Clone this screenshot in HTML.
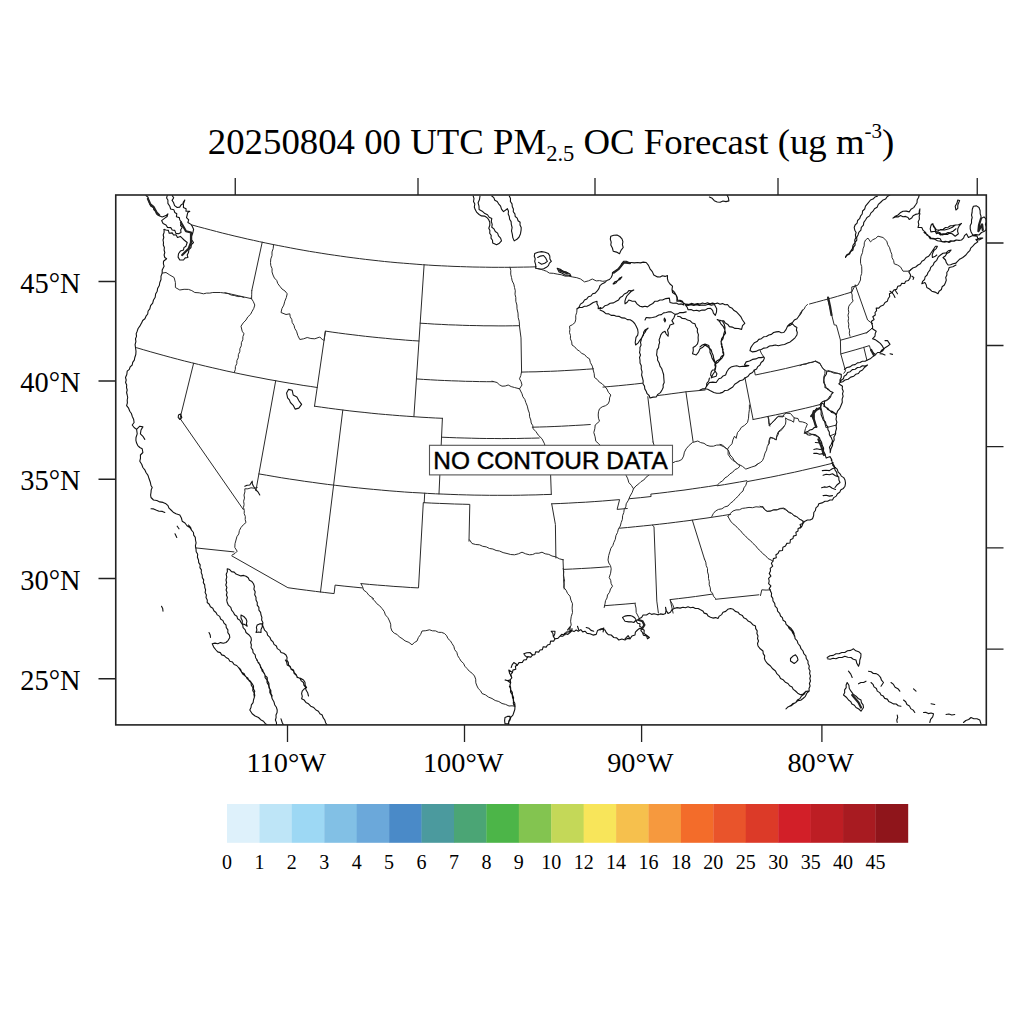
<!DOCTYPE html><html><head><meta charset="utf-8"><style>html,body{margin:0;padding:0;background:#fff;}svg{display:block}</style></head><body>
<svg width="1024" height="1024" viewBox="0 0 1024 1024">
<rect width="1024" height="1024" fill="#fff"/>
<defs><clipPath id="cp"><rect x="115.75" y="195.00" width="870.55" height="529.90"/></clipPath></defs>
<g clip-path="url(#cp)" fill="none" stroke-linejoin="round" stroke-linecap="round"><path d="M192.1 225.0 198.2 226.7 204.3 228.3 210.4 229.9 216.5 231.5 222.6 233.1 228.8 234.6 234.9 236.1 241.1 237.5 247.3 239.0 253.4 240.3 259.6 241.7 265.8 243.0 272.0 244.3 278.2 245.5 284.4 246.7 290.6 247.9 296.9 249.1 303.1 250.2 309.3 251.3 315.6 252.3 321.8 253.3 328.1 254.3 334.3 255.2 340.6 256.1 346.9 257.0 353.1 257.8 359.4 258.6 365.7 259.4 372.0 260.1 378.3 260.8 384.6 261.5 390.8 262.1 397.1 262.7 403.5 263.2 409.8 263.7 416.1 264.2 422.4 264.7 428.7 265.1 435.0 265.5 441.3 265.8 447.6 266.1 454.0 266.4 460.3 266.6 466.6 266.8 472.9 267.0 479.3 267.1 485.6 267.2 491.9 267.3 498.3 267.3 504.6 267.3 510.9 267.3 517.2 267.2 523.6 267.1 529.9 267.0 536.2 266.8M262.2 242.2 251.8 290.5M224.8 292.7 231.5 294.2 238.2 295.7 244.9 297.2 251.6 298.7M136.5 347.7 143.3 349.7 150.2 351.7 157.0 353.6 163.9 355.5 170.8 357.4 177.6 359.2 184.5 361.0 191.5 362.7 198.4 364.4 205.3 366.1 212.2 367.7 219.2 369.3 226.1 370.9 233.1 372.4 240.1 373.9 247.0 375.3 254.0 376.7 261.0 378.0 268.0 379.4 275.0 380.6 282.0 381.9 289.1 383.1 296.1 384.2 303.1 385.4 310.2 386.4 317.2 387.5M193.6 363.3 180.0 418.4 243.3 509.5M275.7 380.7 258.9 473.9 255.9 490.6M324.0 340.5 325.4 331.1 314.5 406.2M325.4 331.1 332.1 332.1 338.7 333.0 345.4 333.9 352.1 334.7 358.7 335.5 365.4 336.3 372.1 337.0 378.8 337.7 385.5 338.3 392.2 339.0 398.9 339.5 405.6 340.1 412.3 340.6 419.0 341.0M424.1 264.8 413.9 416.7M314.5 406.2 321.6 407.2 328.7 408.2 335.7 409.1 342.8 410.0 349.9 410.9 357.0 411.7 364.1 412.4 371.2 413.2 378.3 413.9 385.4 414.5 392.5 415.1 399.7 415.7 406.8 416.2 413.9 416.7 421.0 417.2 428.2 417.6 435.3 418.0 442.4 418.3M342.8 410.0 333.6 485.1 320.5 592.0M258.9 473.9 266.5 475.2 274.1 476.5 281.7 477.8 289.4 479.0 297.0 480.1 304.7 481.3 312.3 482.3 320.0 483.4 327.6 484.4 335.3 485.3 343.0 486.2 350.7 487.1 358.4 487.9 366.0 488.7 373.7 489.4 381.4 490.1 389.1 490.8 396.8 491.4 404.6 492.0 412.3 492.5 420.0 492.9 427.7 493.4 435.4 493.8 443.1 494.1 450.9 494.4 458.6 494.7 466.3 494.9 474.1 495.1 481.8 495.2 489.5 495.3 497.2 495.3 505.0 495.3 512.7 495.3 520.4 495.2 528.2 495.0 535.9 494.9 543.6 494.6 551.3 494.4M442.4 418.3 439.0 493.9M441.6 437.2 449.1 437.5 456.6 437.8 464.1 438.0 471.6 438.2 479.1 438.4 486.7 438.5 494.2 438.5 501.7 438.6 509.2 438.5 516.7 438.5 524.2 438.3 531.7 438.2 539.2 438.0M195.6 547.9 234.0 551.9M231.8 555.9 287.9 587.7 287.9 587.7 297.1 589.0 306.3 590.2 315.6 591.4 324.8 592.5 334.1 593.6 335.1 585.1 335.1 585.1 344.1 586.1 353.1 587.0 362.2 587.9M361.1 583.6 369.3 584.4 377.5 585.1 385.7 585.7 393.9 586.4 402.1 586.9 410.3 587.5 418.5 587.9 423.3 502.6 424.2 502.7 424.7 493.2M424.2 502.7 431.8 503.1 439.4 503.4 447.0 503.7 454.6 504.0 462.2 504.2 469.8 504.4 469.0 541.2M551.7 503.8 555.4 524.5 555.9 558.0M563.0 559.4 564.2 589.0M563.4 569.4 572.5 569.0 581.7 568.5 590.8 568.0 600.0 567.4 609.1 566.7M551.3 494.4 549.9 454.7M532.3 427.2 539.6 427.0 546.8 426.8 554.1 426.5 561.3 426.2 568.6 425.8 575.8 425.4 583.1 425.0 590.3 424.5M416.4 378.9 423.4 379.4 430.4 379.8 437.4 380.2 444.4 380.5 451.4 380.8 458.4 381.0 465.4 381.3 472.4 381.4 479.4 381.6 486.3 381.7 493.3 381.7M420.2 323.2 427.3 323.6 434.3 324.1 441.4 324.4 448.5 324.8 455.6 325.0 462.7 325.3 469.7 325.5 476.8 325.6 483.9 325.8 491.0 325.8 498.1 325.9 505.2 325.9 512.3 325.8 519.4 325.7M519.4 325.7 521.0 337.9 521.6 372.1M521.6 372.1 528.8 371.9 536.0 371.8 543.2 371.5 550.4 371.3 557.6 371.0 564.8 370.6 572.0 370.2 579.1 369.8 586.3 369.3 593.5 368.8M551.7 503.8 560.2 503.5 568.7 503.1 577.2 502.6 585.7 502.2 594.2 501.6 602.6 501.0 611.1 500.3 619.6 499.6 617.1 509.4 617.1 509.4 627.3 508.5M603.0 387.1 610.9 386.4 618.8 385.7 626.7 384.9 634.6 384.1 642.5 383.2M647.8 396.7 653.1 442.0M657.8 395.5 664.8 394.7 671.9 393.7 678.9 392.8 685.9 391.8 705.1 390.0M685.9 391.8 693.1 441.6M744.9 377.5 753.1 419.5M753.1 419.5 760.6 418.0 768.0 416.4 775.5 414.9 783.0 413.3 790.5 411.6 797.9 409.9 805.4 408.2 812.8 406.4 820.2 404.5M767.9 416.5 769.9 426.1M629.5 498.7 640.3 497.7 651.1 496.5 650.8 494.1 650.8 494.1 659.1 493.2 667.4 492.2 675.7 491.1 684.0 490.1 692.2 488.9 700.5 487.7 708.7 486.5 717.0 485.2 717.0 485.8 724.6 484.6 732.0 483.3 739.5 482.0 747.0 480.7 747.2 481.6 755.1 480.1 763.0 478.6 770.9 477.1 778.7 475.5 786.6 473.8 794.5 472.2 802.3 470.4 810.1 468.6 818.0 466.8 825.8 464.9 833.6 463.0M619.6 528.2 627.6 527.5 635.5 526.7 643.5 525.9 651.4 525.1 659.4 524.2 667.3 523.3 675.3 522.3 683.2 521.3 691.1 520.3 699.1 519.1 707.0 518.0 714.9 516.8 722.8 515.6 730.7 514.3M692.3 520.1 704.5 559.2M715.5 599.3 758.9 594.8M670.2 599.6 678.6 598.6 687.1 597.6 695.5 596.5 704.0 595.3 712.4 594.1M670.2 599.6 673.1 613.1M652.2 525.0 654.0 526.7 656.8 601.1 658.4 613.0M604.5 605.7 614.8 604.9 625.1 604.1 635.5 603.2M754.3 370.0 755.3 375.0 755.3 375.0 762.9 373.4 770.4 371.8 778.0 370.2 785.6 368.5 793.1 366.7 800.6 364.9 808.1 363.1 815.6 361.2M827.9 370.5 840.5 374.2M820.2 404.5 826.0 427.7 836.6 425.0M820.2 404.5 820.7 402.9 822.4 401.7 824.8 401.4M830.2 435.8 835.9 433.5M827.7 298.9 834.2 324.9 836.4 325.2 840.4 339.9 840.7 353.6 845.5 370.9 843.8 373.3M840.5 340.2 849.2 337.8 858.0 335.2 866.7 332.6 872.3 328.1M840.8 353.9 848.0 351.9 855.1 349.9 862.3 347.8 869.4 345.6 871.1 351.3 875.7 354.2M863.8 347.3 866.9 360.2M855.3 285.1 867.6 320.0 872.7 323.8M809.5 304.0 816.6 302.1 823.6 300.2 830.6 298.3 837.6 296.3 844.6 294.2 851.6 292.1 855.3 285.1M251.8 290.5 251.7 294.8 251.6 298.7" stroke="#2a2a2a" stroke-width="1"/>
<path d="M146.0 195.6 148.1 197.3 148.5 200.0 149.8 203.8 150.9 206.3 153.5 207.5 153.9 209.9 156.0 211.2 156.4 213.9 158.5 215.6 162.2 216.9 166.0 215.6 167.9 213.8 167.1 216.5 164.8 218.1 161.6 220.6 163.1 223.5 166.0 225.0 167.5 227.4 170.8 227.6 172.2 230.0 174.8 230.4 175.9 233.4 178.5 233.8 181.0 232.5 180.7 229.8 182.2 227.5 180.5 225.3 181.5 222.2 179.8 220.0 179.3 217.6 176.4 216.8 176.8 213.8 174.8 212.5 173.9 209.8 170.6 209.0 169.8 206.2 167.9 203.4 167.9 200.0 166.6 198.0 167.2 195.6M172.2 195.6 173.7 197.7 172.1 200.4 173.5 202.5 174.6 205.6 177.2 207.5 179.7 207.1 181.0 205.0 183.7 203.1 184.8 200.0 183.2 202.3 183.5 205.0 183.4 207.5 186.1 208.8 186.0 211.2 189.8 211.2 187.7 212.6 187.2 215.0 186.5 217.6 188.7 219.9 187.9 222.5 191.0 224.4 192.2 226.2 193.6 229.3 192.9 232.5 191.6 236.2 191.6 239.7 193.5 242.5 191.4 244.6 191.0 247.5 188.9 249.6 188.5 252.5 187.2 254.9 187.9 257.5 185.2 257.9 183.5 260.0 179.8 260.0 178.1 257.1 178.5 253.8 180.4 251.1 183.5 250.0 183.9 247.6 186.0 246.2 187.2 242.5 184.1 240.0 182.2 238.1 180.4 236.4 177.5 237.5 176.0 234.8 173.5 235.0 172.2 232.9 169.2 233.3 168.4 230.4 166.0 230.0 164.1 229.4M803.0 521.0 802.9 523.4 800.1 524.6 800.9 527.4 798.1 528.6 798.0 531.0 795.9 532.3 796.3 535.3 793.4 536.1 793.0 538.5 790.4 539.7 790.0 543.0 786.7 543.4 785.5 546.0 782.9 547.2 782.5 550.5 779.2 550.9 778.0 553.5 775.9 554.8 776.3 557.8 773.4 558.6 773.0 561.0 771.4 563.3 772.7 566.2 770.2 568.3 770.5 571.0 769.2 573.4 770.9 576.1 768.6 578.4 769.2 581.0 768.6 583.6 770.9 585.9 769.2 588.6 770.5 591.0M560.0 636.2 561.7 634.3 564.8 635.0 566.1 632.1 568.8 631.9 571.0 630.3 574.0 631.6 576.2 630.0 578.3 631.3 580.8 629.6 582.7 631.9 585.0 631.2 587.1 633.4 590.0 633.8 593.0 635.1 596.2 634.4 597.5 630.6 601.2 628.8 605.0 630.0 606.2 632.5 608.3 634.6 611.2 635.0 613.8 637.5 616.7 637.9 618.8 640.0 621.9 639.0 625.0 640.0 627.3 638.4 630.0 638.8 631.9 636.1 635.0 635.0 635.4 632.1 637.5 630.0 639.4 628.4 641.9 628.8 644.2 630.3 644.0 633.5 646.2 635.0 649.4 637.5 647.5 638.8 646.6 636.0 643.4 635.2 642.5 632.5 640.9 630.6 642.2 627.9 639.7 626.2 640.0 623.8 637.6 623.3 636.2 621.2 638.8 618.8 641.6 617.6 643.1 615.0 646.5 615.0 649.4 613.1 651.6 614.4 654.0 613.8 658.0 614.8M572.0 628.5 571.9 630.9 570.0 632.5 567.9 634.4 564.6 633.4 562.9 636.2 560.0 636.2 557.9 638.4 555.0 638.8 553.8 641.1 550.6 641.1 550.0 644.2 547.5 645.0 546.2 647.1 543.2 646.7 542.4 649.6 540.0 650.0 538.7 652.1 535.7 651.7 534.9 654.6 532.5 655.0 530.8 657.1 527.6 656.6 526.4 659.6 523.8 660.0 522.3 662.4 519.0 662.6 517.5 665.0 515.4 666.3 515.8 669.3 512.9 670.1 512.5 672.5 510.7 674.7 511.8 677.8 510.0 680.0M871.9 323.8 871.5 321.2 874.1 319.5 872.8 316.7 875.3 315.0 875.0 312.5 876.6 310.6 876.2 308.1 878.8 308.1 880.6 306.2 883.5 305.1 885.0 302.5 887.3 301.3 888.1 298.8 889.7 296.5 889.4 293.8 892.2 292.6 893.8 290.0 896.6 289.4 897.8 286.2 900.6 285.6 901.6 283.4 904.6 283.5 905.6 281.2 908.4 280.5 910.0 278.1 910.6 275.0 908.8 271.9 910.5 270.0" stroke="#111" stroke-width="1.1"/>
<path d="M164.1 229.4 164.1 232.3 163.2 235.0 163.8 237.5 163.0 240.0 163.5 242.5 163.3 245.0 164.4 247.5 164.1 250.0 164.8 252.5 164.1 255.0 164.8 257.5 166.6 258.8 163.5 261.2 163.4 263.8 164.1 266.2 162.2 270.0 162.2 273.1 161.0 276.1 161.0 279.5 159.8 282.5 159.3 285.5 157.7 288.2 157.2 291.2 155.6 294.0 155.2 297.3 153.5 300.0 152.7 303.1 150.6 305.7 149.8 308.8 148.1 311.0 147.7 314.0 146.0 316.2 144.9 318.7 142.7 320.5 141.6 323.0M141.5 323.0 139.8 326.2 138.1 328.5 137.2 331.2 136.2 333.6 136.5 336.4 135.5 338.8 135.9 341.7 135.1 344.6 135.5 347.5 136.0 351.2 135.8 354.5 134.8 357.5 134.3 360.1 132.7 362.4 132.2 365.0 130.2 366.8 129.3 369.4 127.2 371.2 126.8 374.5 125.5 377.5 126.2 380.0 125.6 382.5 126.7 385.0 126.5 387.5 127.2 390.0 126.6 392.5 127.2 395.0M178.5 415.0 180.5 414.0 181.8 417.5 179.8 419.5 178.2 417.5 178.5 415.0M600.8 307.5 598.2 308.8 598.3 306.2 597.0 303.8 597.0 301.2 593.2 302.5 589.5 305.0 587.1 306.1 584.5 306.2 582.1 307.5 579.4 307.5 577.0 308.8 579.2 306.9 580.4 304.1 583.0 302.5 584.5 300.0 586.8 298.9 588.4 296.7 591.0 296.0 592.6 293.8 595.2 293.1 597.0 291.2 598.9 288.6 600.0 285.5M610.8 236.2 613.8 235.2 617.0 235.0 619.8 236.5 622.0 238.8 622.9 241.6 622.4 244.6 623.2 247.5 621.0 250.4 619.5 253.8 616.5 252.1 613.2 251.2 612.4 248.0 610.8 245.0 611.2 242.1 610.3 239.2 610.8 236.2M600.0 285.6 602.3 283.7 605.0 282.5 606.8 280.5 609.4 279.5 611.2 277.5 612.3 275.1 612.5 272.5 615.9 271.0 618.8 268.8 620.8 266.5 621.7 263.5 623.8 261.2 626.3 261.2 628.7 262.5 631.2 262.5 634.4 262.9 637.5 262.5 640.4 262.9 643.3 262.1 646.2 262.5 648.5 265.4 650.0 268.8 652.3 271.6 653.8 275.0 657.5 276.9 660.1 277.0 662.4 275.8 665.1 276.4 667.5 275.6 667.4 278.5 668.1 281.2 670.0 284.0 672.5 286.2 672.0 289.4 672.5 292.5 676.2 295.0 677.3 297.4 677.5 300.0 680.1 300.2 682.5 301.2 683.8 305.0 681.4 303.9 678.6 304.2 676.2 303.1 673.1 303.3 670.0 302.5 669.4 298.1 665.8 298.6 662.5 300.0 659.9 300.0 657.6 301.3 655.0 301.2 652.8 303.5 650.0 305.0 647.5 306.9 645.0 306.2 642.5 306.9 640.0 306.2 637.2 304.1 635.0 301.2 631.8 301.1 628.8 300.0 627.2 302.2 625.0 303.8 624.9 301.2 625.6 298.8 626.8 296.0 628.8 293.8 631.0 291.5 633.8 290.0 631.3 290.8 628.8 290.6 627.0 292.8 624.3 294.0 622.5 296.2 620.1 297.6 618.6 299.9 616.2 301.2 613.5 302.9 610.2 303.3 607.5 305.0 604.8 305.8 602.7 307.9 600.0 308.8M613.1 283.8 615.0 281.7 617.8 280.7 619.4 278.2 621.9 276.9 620.0 279.4 617.6 280.6 616.1 282.8 613.8 284.0M600.0 310.0 603.4 311.5 606.2 313.8 608.9 313.9 611.1 315.4 613.9 315.2 616.2 316.2 619.3 316.4 622.0 317.9 625.0 318.1 627.3 319.6 630.2 319.8 632.5 321.2 634.7 323.5 636.2 326.2 637.6 329.2 638.1 332.5 637.7 335.1 636.0 337.4 635.6 340.0 635.2 342.5 635.6 345.0 638.2 342.8 640.0 340.0 642.0 337.7 643.0 334.8 645.0 332.5 646.2 330.1 648.1 328.1 645.0 330.0 643.6 332.3 643.5 335.2 641.8 337.3 641.2 340.0 640.5 342.4 641.1 345.1 639.9 347.4 640.0 350.0 639.5 352.5 640.5 355.0 639.5 357.5 640.0 360.0 640.0 363.0 641.3 365.8 641.2 368.8 642.1 371.8 641.6 375.0 642.5 378.0M645.0 320.0 646.2 317.5 649.4 317.9 652.5 317.5 655.8 316.7 658.8 315.0 661.4 314.6 663.6 312.9 666.2 312.5 668.7 311.7 671.2 311.9 675.0 314.4 677.7 313.9 680.0 312.5 683.2 312.6 686.2 311.9M675.0 315.0 673.8 318.0 671.9 320.6 673.8 323.8 670.0 325.0 669.2 327.7 667.5 330.0 668.3 333.1 668.1 336.2 666.2 334.0 665.0 331.2 662.5 332.5 660.8 334.8 660.0 337.5 659.1 339.9 659.6 342.6 658.8 345.0 658.6 347.6 657.1 349.9 656.9 352.5 656.6 355.0 657.7 357.5 657.5 360.0 659.2 363.0 660.0 366.2 661.7 368.5 662.5 371.2 663.6 374.5 663.8 378.0M677.5 316.2 680.2 316.8 682.3 318.5 685.2 318.6 687.5 320.0 690.2 320.8 692.3 322.9 695.0 323.8 695.8 326.5 697.5 328.8 697.3 331.7 698.4 334.6 698.1 337.5 698.3 340.7 697.5 343.8 695.6 346.0 693.1 347.5 693.3 350.7 692.5 353.8 696.2 355.0 698.5 352.1 700.0 348.8 702.8 347.2 705.0 345.0 708.8 347.5 710.0 349.9 710.0 352.6 711.2 355.0 712.1 358.3 713.8 361.2 715.6 363.8 715.9 366.3 714.8 368.7 715.0 371.2 712.5 375.0 711.2 378.0M717.5 320.0 720.1 320.2 722.5 321.2 724.2 324.2 725.0 327.5 724.8 330.7 723.8 333.8 723.3 336.4 721.7 338.6 721.2 341.2 721.2 344.2 722.5 347.0 722.5 350.0 723.6 352.4 723.8 355.0 722.2 357.8 720.0 360.0 718.1 362.2 715.6 363.8M664.4 318.1 665.6 320.0 665.0 321.9 664.0 320.0 664.4 318.1M700.0 346.9 702.3 345.0 705.0 344.0 708.8 345.6 709.4 348.1 711.2 350.0 711.9 352.5 713.2 355.5 713.8 358.8 715.2 362.5 714.8 365.0 715.7 367.5 715.2 370.0 712.5 370.0 711.1 372.3 710.6 375.0 711.9 377.5 716.2 376.2 716.9 373.8 714.4 370.0M709.4 378.1 708.7 381.0 706.8 383.3 706.5 386.3 705.0 388.8 707.7 389.3 710.0 390.6 713.8 392.5 716.8 393.3 720.0 393.1 722.7 392.4 724.8 390.5 727.7 390.3 730.0 388.8 732.8 387.0 734.7 384.2 737.5 382.5 739.8 380.7 742.7 380.0 745.0 378.1 747.8 376.6 749.7 374.0 752.5 372.5 754.1 370.3 756.6 369.1 757.8 366.6 760.0 365.0 761.1 362.5 763.3 360.7 764.4 358.1 763.8 356.9 761.3 357.6 758.8 357.5 755.8 358.9 752.5 359.4 749.5 361.0 746.2 361.9 744.4 365.0 748.8 365.6 745.7 366.4 742.5 366.2 739.6 366.7 736.7 365.8 733.8 366.2 731.0 367.1 728.8 368.8 726.8 371.7 725.6 375.0 723.1 375.9 721.3 377.9 718.8 378.8 716.2 382.5 712.8 382.1 709.4 382.5 707.5 385.0 705.0 388.8 702.4 388.9 700.0 390.0M750.0 350.6 750.8 347.6 752.5 345.0 754.3 342.8 757.0 341.6 758.8 339.4 761.4 338.7 763.6 336.8 766.4 336.5 768.8 335.0 771.4 334.4 773.6 332.5 776.2 331.9 778.8 331.6 781.2 332.7 783.8 332.5 786.0 329.6 787.5 326.2 790.2 325.4 792.5 323.8 794.4 326.0 796.9 327.5 796.4 330.0 797.3 332.5 796.9 335.0 795.0 337.8 792.5 340.0 790.2 341.9 787.5 343.1 784.5 344.5 781.2 345.0 778.4 345.7 775.4 345.0 772.5 345.6 769.5 346.0 766.8 347.7 763.8 348.1 761.4 349.5 758.8 350.0 755.8 351.4 752.5 351.9 750.0 350.6M787.5 326.2 789.7 324.0 792.5 322.5 794.3 320.1 797.0 318.7 798.8 316.2 801.0 313.4 802.5 310.0M845.5 257.5 847.1 255.3 849.6 254.1 850.8 251.6 853.0 250.0 853.4 247.4 855.1 245.1 855.1 242.4 856.8 240.1 856.7 237.4 858.0 235.0 858.8 232.3 860.9 230.2 861.3 227.3 863.4 225.2 863.8 222.3 865.5 220.0 867.0 217.5 869.6 215.9 870.8 213.1 873.0 211.2 874.5 208.8 877.1 207.2 878.3 204.4 880.5 202.5 882.6 200.3 885.5 199.1 887.3 196.5 889.9 195.0M845.5 256.9 846.8 254.7 849.2 253.4 850.5 251.2 852.4 248.5 853.0 245.2 854.9 242.5 854.7 239.9 855.9 237.6 855.4 234.9 856.1 232.5 854.8 230.2 854.2 227.5 855.1 225.0 857.1 223.2 857.6 220.5 859.6 218.7 860.5 216.2 862.2 214.0 862.6 211.0 864.7 209.0 865.5 206.2 868.0 203.1 870.5 200.0 873.0 199.1 874.9 197.1 877.4 196.2M893.0 218.1 895.3 216.2 898.0 215.0 900.2 212.8 903.0 211.2 906.2 211.1 909.2 211.9 911.0 209.3 913.7 207.6 915.5 205.0 917.0 202.7 917.2 199.8 918.6 197.5 919.2 195.0M893.0 218.1 895.4 216.9 898.1 216.9 900.5 215.6 902.9 216.7 905.6 216.4 908.0 217.5 909.2 219.4 911.6 218.1 913.1 215.7 915.5 214.4 918.6 213.8 919.7 211.4 919.9 208.8 919.2 211.2 919.9 213.8 919.2 216.2 919.4 219.1 918.2 221.8 918.8 224.7 918.0 227.5 921.8 227.5 923.0 230.2 925.5 232.3 926.8 235.0 929.5 236.5 931.8 238.8 934.8 239.2 937.5 240.8 940.5 241.2 943.0 241.9 945.5 241.2 948.0 241.9 950.6 240.8 953.4 241.1 956.0 240.0M931.1 225.0 933.0 223.8 933.4 226.4 935.1 228.6 935.5 231.2 938.3 232.8 940.5 235.0 942.9 233.7 945.6 233.8 948.0 232.5 950.6 232.3 953.0 231.2 956.0 228.8M938.0 231.2 940.3 229.6 943.2 229.2 945.5 227.5 948.1 227.3 950.4 225.8 953.0 225.6 956.0 225.0M921.8 283.8 922.6 281.3 924.6 279.5 925.1 276.8 927.1 275.0 928.0 272.5 929.9 270.2 930.7 267.3 933.1 265.2 934.2 262.5 936.7 260.3 938.1 257.2 940.5 255.0 943.0 253.3 946.0 252.9 948.3 250.8 951.1 250.0 949.4 252.2 946.8 253.4 945.3 256.0 943.0 257.5 945.5 260.0 946.3 262.7 948.0 265.0 950.6 264.8 953.0 263.8 956.0 263.1M956.0 265.0 952.8 266.7 949.2 267.5 948.4 270.2 946.8 272.5 946.9 275.1 945.7 277.4 946.3 280.1 945.5 282.5 944.4 285.0 942.1 286.8 941.4 289.5 939.1 291.3 938.0 293.8 935.0 292.1 931.8 291.2 929.5 289.0 926.8 287.5 926.2 284.8 924.9 282.5 921.8 283.8M910.5 270.0 912.8 268.0 915.7 267.0 918.0 265.0 920.4 263.7 921.9 261.3 924.2 260.0 926.0 257.6 928.7 256.2 930.5 253.8 933.0 250.0 935.5 246.2 937.4 246.2 936.3 248.6 934.1 250.2 933.0 252.5 932.2 254.9 932.4 257.5 934.8 256.6 936.8 255.0M871.9 323.8 872.6 326.2 872.5 328.8 876.2 331.2 875.2 333.6 875.0 336.2 872.5 338.8 875.2 339.6 877.5 341.2 880.3 343.4 882.5 346.2 883.8 348.8 881.6 350.3 880.0 352.5 882.8 350.8 884.7 348.0 887.5 346.2 890.0 344.4 887.5 340.6 885.0 340.6M880.0 353.8 882.6 353.9 885.0 355.0M890.0 353.8 892.5 354.4M844.4 369.4 846.9 367.5 850.0 366.9 852.5 365.0 855.1 364.6 857.4 362.9 860.0 362.5 862.4 361.2 865.1 361.3 867.5 360.0 870.2 358.8 872.5 356.9 875.3 355.0 877.5 352.5 880.0 352.5M840.0 382.5 841.1 380.2 843.4 378.8 844.1 376.2 846.4 374.8 847.5 372.5 850.2 371.7 852.3 369.6 855.2 369.2 857.5 367.5 860.1 367.3 862.4 365.8 865.1 366.1 867.5 365.0 864.7 367.2 862.5 370.0 860.1 371.2 858.4 373.5 855.7 374.3 853.8 376.2 850.7 377.1 848.1 379.2 845.0 380.0 842.7 381.7 840.0 382.5M841.2 374.4 841.3 377.2 840.0 379.7 840.0 382.5 838.8 383.8 842.5 386.2 842.2 388.8 843.3 391.2 842.5 393.8 843.1 396.2 842.1 399.1 842.3 402.2 841.2 405.0 839.8 408.4 837.5 411.2 836.2 415.0 834.4 413.2 831.8 412.5 830.0 410.6 827.7 409.5 826.1 407.3 823.8 406.2 824.5 403.8 824.4 401.2 826.8 400.4 828.8 398.8 830.6 396.9 831.3 394.3 833.1 392.5 830.2 391.2 827.9 388.8 825.0 387.5 825.0 384.9 823.7 382.6 823.8 380.0 824.4 376.9 826.3 374.3 826.9 371.2M957.8 200.0 959.6 200.6 957.8 205.0 957.8 208.4 955.9 210.0 955.2 206.2 956.9 203.3 957.8 200.0M930.2 228.8 930.8 226.1 932.1 223.8 934.0 226.2 936.5 230.0 940.2 230.0 944.6 230.0 949.0 228.8 952.4 227.3 955.2 225.0 958.5 224.7 961.5 223.4 959.3 225.8 957.8 228.8 957.6 231.3 958.4 233.8 955.2 236.2 952.1 233.8 949.0 233.1 947.8 234.4 944.9 234.2 942.1 235.0 939.6 232.5 936.5 233.8 935.2 231.2 930.9 231.9 930.2 228.8M924.0 232.5 927.8 235.0 930.2 238.8 932.8 238.3 935.2 238.8 937.8 238.3 940.2 238.8 941.5 241.2 943.9 242.1 946.6 241.6 949.0 242.5 951.4 241.2 954.1 241.3 956.5 240.0 959.0 240.4 961.5 240.0 963.5 238.2 964.5 235.6 966.5 233.8 968.4 237.5 972.8 235.6 977.1 236.2 977.8 238.8 980.2 238.0 982.8 238.1 979.0 240.0 975.9 239.4 977.8 241.9 975.0 243.7 972.8 246.2 970.7 248.1 969.8 250.7 967.8 252.5 965.6 255.3 962.8 257.5 960.2 259.0M972.8 235.0 971.1 232.0 970.2 228.8 970.2 225.8 971.5 223.0 971.5 220.0 972.2 217.5 971.5 215.0 972.1 212.5 972.3 209.3 973.4 206.2 976.5 205.9 979.0 207.5 980.1 210.5 980.2 213.8 981.0 216.2 980.9 218.8 984.0 216.9 985.9 218.8 986.3 221.6 985.4 224.4 986.3 227.2 985.9 230.0 983.9 231.6 981.5 232.5 979.0 235.0 975.9 234.6 972.8 235.0M830.0 456.9 831.7 459.4 832.1 462.5 833.8 465.0 834.9 467.4 837.2 469.1 838.1 471.8 840.0 473.8 841.3 476.1 843.7 477.6 845.0 480.0 845.5 483.1 845.0 486.2 843.4 488.4 840.9 489.7 839.7 492.2 837.5 493.8 836.2 496.1 833.8 497.6 832.5 500.0 829.9 500.0 827.6 501.3 825.0 501.2 822.0 502.9 818.8 503.8 817.9 506.2 815.9 507.9 815.4 510.5 813.8 512.5 813.6 515.7 812.5 518.8 810.1 520.0 807.4 520.0 805.0 521.2 803.0 523.2 802.0 526.0 800.0 528.0M831.2 460.0 832.6 462.3 832.7 465.2 834.5 467.3 835.0 470.0 836.7 472.3 837.1 475.2 838.8 477.5 838.9 480.1 840.0 482.5 837.2 484.7 835.0 487.5M770.5 591.0 771.6 593.4 771.3 596.1 772.8 598.4 773.0 601.0 774.7 603.3 775.1 606.2 777.2 608.3 777.6 611.2 779.7 613.3 780.5 616.0 782.4 617.7 783.1 620.3 785.4 621.7 786.1 624.3 788.0 626.0 789.3 628.7 791.7 630.8 793.0 633.5 794.7 635.8 795.1 638.7 797.2 640.8 798.0 643.5 800.0 645.8 801.0 648.7 803.0 651.0 803.8 653.7 805.9 655.8 806.3 658.7 808.0 661.0 808.0 663.6 809.3 665.9 808.8 668.6 810.1 670.9 809.6 673.6 810.5 676.0 809.8 678.5 810.5 681.0 809.4 683.5 810.1 686.0 809.0 688.5 809.2 691.0 806.8 693.2 805.4 696.3 803.0 698.5 800.7 700.2 797.8 700.6 795.7 702.7 793.0 703.5 790.8 705.6 788.0 707.0M658.0 614.8 660.4 613.9 663.1 614.4 665.5 613.5 666.0 610.4 665.5 607.2 666.3 610.5 668.0 613.5 670.4 612.2 671.9 609.8 674.2 608.5 677.1 607.6 680.1 608.1 683.0 607.2 685.5 607.7 688.0 606.8 690.5 607.7 693.0 607.2 695.4 608.5 698.1 608.5 700.5 609.8 702.8 610.9 704.2 613.1 706.8 613.9 708.2 616.1 710.5 617.2 712.9 618.1 715.6 617.6 718.0 618.5 719.3 616.1 721.7 614.6 723.0 612.2 725.7 611.4 727.8 609.3 730.5 608.5 733.2 609.3 735.3 611.4 738.0 612.2 739.7 614.3 742.3 615.4 743.7 617.8 746.3 618.9 748.0 621.0 750.7 622.3 752.8 624.7 755.5 626.0 755.7 628.6 757.2 630.9 756.9 633.6 758.0 636.0 757.5 638.5 758.5 641.0 757.5 643.5 758.0 646.0 760.2 648.8 763.0 651.0 763.2 653.6 764.7 655.9 764.4 658.6 765.5 661.0 767.7 663.8 770.5 666.0 772.7 668.8 775.5 671.0 776.8 673.7 779.2 675.8 780.5 678.5 783.2 679.8 785.3 682.2 788.0 683.5 789.6 685.7 792.1 686.9 793.3 689.4 795.5 691.0 797.7 693.2 800.5 694.8 803.2 693.9 805.3 691.8 808.0 691.0M790.5 658.5 792.7 656.3 795.5 654.8 797.2 657.0 798.0 659.8 796.4 661.9 794.2 663.5 790.5 661.0 790.5 658.5M788.0 626.0 790.8 628.2 793.0 631.0 794.1 633.4 794.2 636.0M642.5 378.0 643.2 380.8 643.0 383.8 644.5 386.1 644.8 388.9 646.2 391.2 647.1 393.7 649.1 395.5 650.0 398.0 653.1 397.1 656.2 397.0 657.8 394.4 660.4 392.6 662.0 390.0 663.2 387.6 663.1 384.9 664.2 382.5 663.8 378.0M188.5 525.0 190.5 527.3 191.5 530.2 193.5 532.5 193.7 535.1 195.3 537.4 195.5 540.0 196.1 542.9 195.4 545.9 196.0 548.8 196.2 551.7 197.7 554.3 197.4 557.3 198.5 560.0 198.7 562.6 200.2 564.9 199.9 567.6 201.4 569.9 201.2 572.6 202.2 575.0 202.3 577.6 203.7 579.9 203.3 582.6 204.7 584.9 204.8 587.5 205.6 589.9 205.1 592.6 206.4 594.9 206.0 597.6 207.3 599.9 207.2 602.5 209.3 604.2 210.4 606.8 212.8 608.2 213.9 610.8 216.0 612.5 217.3 614.9 219.7 616.4 220.6 619.0 223.0 620.6 224.0 623.2 226.0 625.0 226.3 627.6 227.9 629.9 227.8 632.6 229.4 634.9 229.8 637.5 228.2 640.3 226.0 642.5 223.3 643.2 220.5 642.6 217.8 643.7 215.0 643.1 212.2 643.8 213.7 647.1 216.0 650.0 217.7 651.9 220.3 652.6 221.7 654.9 224.3 655.6 226.0 657.5 228.4 658.8 229.9 661.2 232.5 662.1 234.1 664.5 236.7 665.5 238.5 667.5 240.6 669.4 241.7 672.1 244.2 673.6 245.3 676.4 247.8 677.9 248.9 680.6 251.0 682.5 251.3 685.3 252.9 687.8 252.8 690.7 254.4 693.2 254.8 696.0M227.2 568.8 227.4 571.6 226.2 574.3 226.8 577.2 226.0 580.0 226.6 582.5 225.8 585.0 226.9 587.5 226.1 590.0 227.1 592.5 226.4 595.0 227.4 597.5 226.7 600.0 227.2 602.5 228.4 605.2 230.8 607.3 231.6 610.2 233.5 612.5 234.6 614.8 236.9 616.2 237.6 618.8 239.9 620.2 241.0 622.5 242.7 624.8 243.1 627.7 245.2 629.8 246.0 632.5 248.8 634.7 251.0 637.5 251.4 640.0 250.6 642.5 251.4 645.0 251.0 647.5 252.7 649.8 253.1 652.7 255.2 654.8 255.6 657.7 257.2 660.0 258.1 662.7 260.2 664.8 260.6 667.7 262.7 669.8 263.5 672.5 264.9 674.8 265.1 677.7 266.9 679.8 267.1 682.7 268.5 685.0 269.0 687.9 270.8 690.4 270.9 693.4 272.2 696.0M227.2 568.8 229.7 569.6 231.5 571.6 234.2 572.1 236.0 574.1 238.5 575.0 240.9 575.9 243.6 575.4 246.0 576.2 248.2 577.8 249.4 580.3 251.9 581.6 253.5 583.8 254.4 586.4 253.9 589.2 255.2 591.8 254.7 594.7 256.0 597.2 256.0 600.0 257.3 602.4 257.2 605.1 258.9 607.4 258.9 610.1 260.6 612.4 261.0 615.0 261.9 617.4 261.6 620.1 262.9 622.4 262.6 625.1 263.5 627.5 264.6 630.2 266.9 632.3 267.6 635.2 269.9 637.3 271.0 640.0 273.0 641.8 274.0 644.4 276.4 646.0 277.3 648.6 279.7 650.1 281.0 652.5 283.7 653.3 286.0 655.0 287.1 657.4 286.8 660.1 288.3 662.4 288.5 665.0 290.4 666.7 291.1 669.3 293.4 670.7 294.1 673.3 296.0 675.0 297.6 677.2 300.1 678.4 301.3 680.9 303.5 682.5 303.9 685.1 305.6 687.4 306.0 690.0 307.7 692.8 308.5 696.0M241.0 615.0 243.8 616.5 246.0 618.8 246.9 621.2 246.4 623.8 247.2 626.2 245.0 624.6 242.2 623.8 242.3 620.8 241.0 618.0 241.0 615.0M257.2 625.0 259.6 623.9 262.2 623.8 262.3 626.7 261.0 629.5 261.0 632.5 258.5 632.0 256.0 632.5 256.9 630.1 256.4 627.4 257.2 625.0M151.0 508.8 153.6 508.9 156.0 510.0 159.0 511.2M159.8 511.2 162.4 511.4 164.8 512.5M177.2 526.2 179.0 528.8M175.0 533.8 176.8 537.5M161.5 606.2 162.7 608.6 163.0 611.2M209.0 632.5 210.2 634.9 210.5 637.5M244.8 486.2 247.1 485.2 249.8 485.0 252.2 481.2 252.4 483.9 253.5 486.2 256.0 490.0 258.2 492.2 259.8 495.0M238.5 667.5 241.0 671.2 242.7 674.0 245.5 676.0 247.2 678.8 250.1 680.9 252.2 683.8 253.5 686.1 253.5 688.9 254.8 691.2 253.9 694.1 254.4 697.1 253.5 700.0 253.1 702.6 251.4 704.9 251.0 707.5 249.8 710.0 252.2 713.8 255.1 716.0 258.5 717.5 260.7 719.7 263.5 721.2 265.1 723.4 267.2 725.0M256.6 660.0 258.6 662.3 259.8 665.0 261.4 668.0 262.2 671.2 264.3 673.1 265.2 675.7 267.2 677.5 267.4 680.5 268.9 683.2 269.1 686.2 269.9 689.3 269.8 692.5 271.4 695.5 272.2 698.8 273.9 701.7 274.8 705.0 276.4 707.3 277.2 710.0 277.1 712.6 276.0 715.0 276.1 717.6 275.4 720.0 276.4 722.4 276.6 725.0M285.4 660.0 286.7 662.3 287.2 665.0 289.6 666.3 291.1 668.7 293.5 670.0 294.3 672.7 296.4 674.8 297.2 677.5 300.5 678.3 303.5 680.0 305.0 682.3 305.2 685.2 306.6 687.5 304.1 689.0 302.2 691.2 301.6 693.7 302.3 696.3 301.6 698.8 304.2 700.1 305.9 702.4 308.5 703.8 310.7 706.2 313.8 707.6 316.0 710.0 318.4 711.3 319.9 713.7 322.2 715.0 323.1 717.7 324.8 720.0 325.6 722.7 327.2 725.0M281.0 718.8 282.2 722.5 283.5 725.0M600.0 630.0 603.8 628.1 603.1 631.9M625.0 638.8 628.1 635.6 630.0 638.8M622.5 617.5 624.8 616.1 627.5 615.6 630.1 615.5 632.5 616.2 634.7 617.8 636.2 620.0 633.8 622.5 631.3 621.7 628.8 621.9 625.0 621.2 622.5 617.5M567.5 630.0 570.0 626.9 570.0 631.2M577.5 626.2 578.8 630.0M586.2 627.5 589.0 628.3 591.0 630.4 593.8 631.2M510.0 680.0 510.7 682.5 510.0 685.0 510.6 687.5 510.8 690.1 512.3 692.4 512.5 695.0 513.6 697.7 513.3 700.7 514.8 703.3 515.0 706.2 514.8 709.5 513.8 712.5 512.9 715.2 510.8 717.3 510.0 720.0 508.6 722.3 508.1 725.0M509.4 686.2 510.6 688.9 510.5 692.0 512.2 694.6 512.5 697.5 513.6 700.3 513.3 703.4 514.4 706.2M555.0 638.8 553.3 636.5 552.9 633.5 551.2 631.2 555.0 631.2 554.8 633.9 553.8 636.2M532.5 655.0 530.0 652.5 526.8 652.7 523.8 653.8 525.3 655.9 527.5 657.5M517.5 665.0 513.8 662.5 512.1 664.8 511.2 667.5M512.5 672.5 508.8 670.0 509.6 673.3 511.2 676.2M510.6 680.0 507.8 680.5 505.0 680.0 507.7 680.8 510.0 682.5M505.0 717.5 507.4 716.4 510.0 716.2 510.0 718.8 508.7 721.2 508.8 723.8 505.0 723.8 504.6 720.6 505.0 717.5M806.0 691.2 804.3 694.0 801.5 696.0 799.8 698.8 797.4 700.1 795.9 702.4 793.5 703.8 791.2 705.8 788.3 706.7 786.0 708.8M827.2 657.5 830.0 655.8 833.3 655.4 836.0 653.8 839.0 653.8 841.8 652.5 844.8 652.5 847.5 650.8 850.8 650.4 853.5 648.8 855.8 650.8 858.7 651.7 861.0 653.8 860.8 657.0 859.8 660.0 859.6 663.2 858.5 666.2 856.8 663.3 856.0 660.0 853.3 659.2 851.0 657.5 847.8 657.3 844.8 656.2 842.0 657.5 838.8 657.5 836.0 658.8 833.1 658.3 830.2 659.2 827.2 658.8M847.2 682.5 848.9 685.2 849.3 688.5 851.0 691.2 853.2 694.1 856.0 696.2 858.2 698.5 861.0 700.0 861.4 702.6 863.1 704.9 863.5 707.5 861.0 711.2 858.8 709.0 856.0 707.5 854.4 705.3 851.9 704.1 850.7 701.6 848.5 700.0 846.3 697.2 843.5 695.0 844.7 692.6 844.6 689.9 846.2 687.6 846.1 684.9 847.2 682.5M868.5 671.2 871.2 671.8 873.3 673.5 876.2 673.6 878.5 675.0 880.5 677.3 881.5 680.2 883.5 682.5 881.0 686.2M871.0 682.5 873.0 684.3 874.0 686.9 876.4 688.5 877.3 691.1 879.7 692.6 881.0 695.0 883.3 696.1 884.7 698.4 887.3 699.1 888.7 701.4 891.0 702.5 893.3 703.9 896.2 704.0 898.3 705.7 901.0 706.2M891.0 682.5 893.5 684.4 895.1 687.2 897.9 688.7 899.8 691.2M903.5 700.0 905.7 701.8 906.9 704.5 909.5 705.9 910.7 708.6 913.2 710.1 914.8 712.5M848.5 671.2 850.8 674.1 852.2 677.5M858.5 683.8 860.9 682.5 863.6 682.5 866.0 681.2M923.5 712.5 926.1 712.4 928.4 713.6 931.1 713.0 933.5 713.8 932.7 716.8 930.6 719.4 929.8 722.5M946.0 714.5 948.9 714.0 951.8 715.0 954.8 714.5M963.5 722.5 965.8 720.5 968.7 719.5 971.0 717.5 973.8 718.8 977.0 718.7 979.8 720.0 981.0 723.8M897.2 715.0 897.7 717.5 896.8 720.0 897.2 722.5M913.5 688.8 916.0 691.2M931.0 703.8 934.8 704.5M816.9 408.1 815.2 410.4 813.0 412.0 812.2 415.9 812.9 418.8 814.5 421.4 815.3 424.3 816.9 426.9 814.3 427.5 812.4 429.4 809.8 430.0 807.7 431.6 805.2 432.3 807.5 434.7 810.1 435.1 812.7 434.2 815.3 434.7 818.0 436.7 820.0 439.4 821.6 442.3 822.3 445.6 823.6 448.1 823.5 451.0 824.7 453.4 826.2 458.1 830.2 456.6M813.8 453.4 816.7 453.2 819.6 454.3 822.6 453.6 825.5 454.2M813.8 449.5 816.8 448.8 820.0 449.5 823.1 448.8M815.3 442.5 818.5 442.8 821.6 444.1M821.6 402.7 821.2 405.5 820.0 408.1 821.2 411.1 821.1 414.5 822.3 417.5 823.3 420.1 825.5 422.0 826.1 424.8 827.8 426.9 827.9 429.6 829.3 432.0 829.4 434.7 831.3 437.6 832.5 440.9 831.3 444.3 829.4 447.2 830.2 449.9 830.2 452.7 830.9 449.0 832.5 445.6 832.7 442.7 834.2 440.1 833.9 437.1 835.4 434.5 835.6 431.6 836.5 428.5 836.0 425.3 836.9 422.2 836.0 419.4 836.5 416.4 835.6 413.6 832.7 411.6 829.4 410.5 827.7 408.2 825.2 406.9 823.8 404.3 821.6 402.7M822.3 470.6 825.9 470.2 829.4 470.6 832.3 468.7 835.6 467.5M823.1 475.3 826.2 474.3 829.4 474.7 832.5 473.8 835.4 475.7 838.8 476.9M821.6 487.8 824.1 486.9 826.9 487.2 829.4 486.2 832.3 488.2 835.6 489.4M823.1 495.6 826.2 495.2 829.4 496.1 832.5 495.6M672.2 290.0 674.4 292.1 675.9 294.7 676.9 297.9 676.9 301.2 679.8 301.3 682.5 302.2 685.3 304.1 688.4 304.4 691.4 303.4 694.5 304.2 697.5 303.6 700.0 304.0 702.5 303.0 705.0 303.8 707.5 302.8 710.0 303.7 712.5 303.1 715.0 303.8 717.5 303.1 720.0 304.3 722.5 303.6 725.0 304.7 727.5 304.5 729.4 306.9 732.2 308.3 734.1 310.6 736.7 312.1 738.8 314.4 741.0 316.9 742.5 320.0 744.8 323.3 742.5 325.6 741.6 329.4 738.3 328.5 735.0 328.4 732.3 327.1 729.4 326.6 727.8 324.4 725.3 323.1 723.8 320.9 720.4 320.7 717.2 319.5 719.4 321.3 720.9 323.8 723.2 326.3 724.7 329.4 725.6 333.1 723.7 335.7 722.9 339.0 720.9 341.6 721.9 344.1 721.6 346.9 723.1 349.3 722.7 352.2 723.8 354.7 721.3 356.5 719.8 359.2 717.1 360.7 715.3 363.1M685.3 305.0 687.1 307.1 688.1 309.7 691.0 309.6 693.7 310.8 696.6 310.3 699.4 311.1 702.1 310.0 705.1 310.1 707.7 308.5 710.6 308.3 712.6 310.4 713.4 313.2 715.3 315.3 716.5 312.1 716.7 308.8 714.4 304.5 711.3 305.1 708.3 304.3 705.3 305.3 702.2 305.0 699.4 305.4 696.6 304.6 693.8 305.4 690.9 304.6 688.1 305.4 685.3 305.0M709.4 197.0 712.2 198.3 714.3 200.7 717.2 202.0 720.2 202.2 723.0 201.0 726.0 201.6 728.9 200.9 728.4 197.8 727.0 195.0M473.2 196.0 474.0 198.6 473.5 201.5 474.8 204.1 474.3 207.0 475.2 209.6 476.8 212.4 479.1 214.5 481.5 215.9 484.4 216.1 486.9 217.5 488.7 219.7 489.8 222.3 489.8 225.3 488.8 228.2 489.9 230.5 489.7 233.2 491.2 235.4 491.0 238.1 492.5 240.3 492.7 242.9 496.6 244.8 499.4 243.2 501.5 240.9 500.6 238.1 498.5 235.9 497.6 233.1 495.3 231.5 494.0 228.9 491.8 227.2 492.2 224.3 491.3 221.4 491.8 218.4 489.2 217.2 487.5 214.8 484.9 213.6 482.2 211.2 479.1 209.6 479.0 206.2 478.1 202.8 479.5 199.5 480.0 196.0M491.8 196.0 493.8 197.6 494.8 200.2 497.2 201.5 498.6 203.8 500.6 206.2 501.5 209.2 503.5 211.6 507.4 208.7 508.5 211.2 508.2 214.0 509.3 216.5 509.6 219.2 511.1 221.6 511.3 224.3 512.1 227.5 511.5 230.9 512.3 234.1 512.8 237.6 514.2 240.9 516.9 239.3 519.1 237.0 520.5 233.7 521.1 230.2 521.2 227.5 520.0 225.0 520.1 222.3 518.1 220.7 517.2 218.1 515.2 216.5 514.9 213.9 513.3 211.7 513.4 209.0 512.3 206.7 512.0 203.9 510.4 201.5 510.5 198.5 509.3 196.0M534.7 253.6 538.0 252.2 541.6 251.6 545.1 252.2 548.4 253.6 549.8 256.0 549.9 259.0 551.3 261.4 549.4 263.1 548.4 265.6 546.4 267.3 543.7 268.7 540.6 269.2 535.7 268.2 535.7 264.8 534.7 261.4 535.2 258.8 534.3 256.2 534.7 253.6M537.7 257.5 540.4 256.1 543.5 255.5 545.8 258.2 547.4 261.4 544.7 263.3 541.6 264.3 538.6 262.4M557.2 268.2 560.3 269.3 563.0 271.2 566.6 272.2 569.9 274.1 570.9 276.1 568.0 275.1 565.0 275.1 562.3 273.2 559.1 272.1 557.2 268.2M127.2 395.0 127.7 397.5 127.2 400.0 127.4 402.9 126.6 405.6 128.6 408.2 129.8 411.2 131.4 413.5 132.2 416.2 133.6 419.2 134.1 422.5 132.2 425.0 134.1 427.5 136.6 429.4 137.2 433.8 136.0 437.5 135.9 440.4 136.6 443.1 137.8 445.6 139.8 447.5 142.2 448.8 142.9 452.5 140.4 455.0 140.5 458.2 139.8 461.2 141.7 464.2 142.9 467.5 144.8 469.8 146.0 472.5 148.0 475.4 149.1 478.8 150.4 482.5 150.9 485.2 152.2 487.5 151.2 489.9 151.0 492.5 150.6 495.0 151.0 497.5 153.5 500.0 156.8 500.5 159.8 501.9 163.0 502.4 166.0 503.8 168.0 505.6 169.0 508.2 171.0 510.0 173.2 512.2 176.0 513.8 179.8 515.0 181.4 518.0 182.2 521.2 185.0 523.0 187.0 525.8 189.8 527.5 191.6 530.1M136.6 429.4 139.8 426.2 142.9 426.9 141.0 430.0 140.4 433.8 142.9 436.3 144.8 439.4M288.5 389.4 292.2 390.3 293.2 395.0 296.9 396.9 298.8 400.6 301.6 404.4 298.8 408.1 295.1 409.1 293.2 405.3 290.4 402.5 289.4 399.9 287.6 397.8 286.6 393.1 288.5 389.4M890.0 291.2 892.2 292.8 893.8 295.0 895.0 297.5M895.0 290.0 897.5 293.8M911.9 276.2 913.8 277.5 913.1 279.4M959.7 259.2 957.3 261.6 955.9 263.0" stroke="#111" stroke-width="1.1"/>
<path d="M162.2 273.1 166.0 272.5 169.8 275.0 174.1 277.5 175.4 282.5 175.4 287.5 179.8 290.0 184.1 289.3 188.5 289.4 191.8 290.6 194.8 292.5 199.2 292.8 203.5 293.8 206.6 293.1 209.8 293.1 212.8 292.5 216.0 292.5 220.4 292.5 224.8 293.1 228.2 293.6 231.3 295.1 234.8 295.6 237.8 296.6 241.0 296.5 244.0 297.5M251.0 298.0 253.2 301.3 254.8 305.0 253.8 308.3 252.2 311.2 250.5 314.4 247.8 316.9 246.0 320.0 243.2 322.9 241.0 326.2 242.2 331.2 244.0 333.8 242.9 336.6 242.8 339.8 241.4 342.6 241.3 345.8 239.9 348.6 239.8 351.7 238.4 354.5 238.3 357.7 236.9 360.5 236.8 363.6 235.4 366.5 235.3 369.6 234.2 372.5M273.5 245.0 273.2 248.6 272.0 251.9 272.0 255.6 270.8 258.9 270.5 262.5 270.8 265.7 272.1 268.7 272.0 271.9 273.0 275.0 274.4 278.0 276.7 280.4 277.8 283.6 279.8 286.2 282.0 289.0 285.0 291.0 287.2 293.8 286.3 297.6 284.8 301.2 283.8 305.1 281.9 308.6 281.0 312.5 286.0 314.5 289.8 313.8 290.2 316.8 291.8 319.5 292.2 322.5 294.0 325.3 294.8 328.5 296.5 331.2 297.8 335.5 299.8 339.5 303.6 338.8 307.2 337.5 310.9 338.5 314.8 338.8 319.8 337.0 322.8 340.0M577.0 308.8 576.8 312.2 575.7 315.6 575.8 319.1 575.0 322.5 572.4 324.7 569.5 326.2 569.9 329.4 569.5 332.5 570.5 335.6 570.4 338.8 571.7 341.8 572.0 345.0 574.7 346.8 576.8 349.4 579.5 351.2 581.8 353.4 584.7 354.7 586.8 357.2 589.5 358.8 590.4 362.6 592.3 366.1 593.2 370.0 594.2 373.7 594.5 377.5 597.2 379.4 599.3 382.1 602.2 383.8 604.5 386.2 606.9 389.0 608.4 392.3 610.8 395.0 609.6 397.8 609.4 400.9 608.2 403.8 605.5 405.7 602.2 406.8 599.5 408.8 598.5 411.8 598.2 415.0 598.5 418.2 599.5 421.2 595.2 425.0 594.8 428.8 593.8 432.5 595.1 436.8 595.8 441.2 598.5 443.5 600.8 446.2 602.3 449.2 603.2 452.5M510.0 267.2 510.8 270.6 510.7 274.1 511.5 277.5 512.2 280.9 513.8 284.1 514.5 287.5 515.3 290.8 515.0 294.2 515.8 297.5 515.8 301.3 516.9 305.0 517.0 308.8 518.0 313.1 518.2 317.5 519.2 321.2 519.5 325.0M492.0 381.2 497.0 382.5 499.3 384.7 502.0 386.2 505.2 386.0 508.2 385.0 511.2 386.6 514.5 387.5 519.5 388.8 522.0 393.8 522.9 396.8 524.8 399.4 525.8 402.5 527.3 406.1 528.2 410.0 529.4 413.2 529.6 416.8 530.8 420.0 531.2 423.0 532.8 425.7 533.2 428.8 536.0 431.7 538.2 435.0 542.0 438.8 544.5 443.8 545.5 448.1 545.8 452.5M521.5 372.0 520.8 375.5 519.5 378.8 521.1 381.7 522.0 385.0 519.5 388.8M760.0 350.0 761.2 353.1 763.8 356.9M749.4 405.0 749.4 409.4 748.8 413.8 748.5 418.2 747.5 422.5 744.6 425.3 741.2 427.5 739.7 430.2 737.5 432.5 736.2 438.0M815.6 361.0 820.0 363.1 821.3 366.1 823.1 368.8 825.0 370.6 824.9 373.8 823.8 376.8 823.8 380.0 824.7 383.9 826.2 387.5 828.0 390.0M851.8 291.9 851.8 286.9 855.0 286.3 858.0 285.0 860.5 280.0 860.6 276.6 861.7 273.4 861.8 270.0 861.7 266.6 860.6 263.4 860.5 260.0 861.0 256.2 862.5 252.6 863.0 248.8 864.2 245.9 864.3 242.8 865.5 240.0 868.0 238.1 870.5 241.9 872.8 239.7 875.7 238.4 878.0 236.2 883.0 237.5 886.8 241.2 887.7 244.7 889.6 247.8 890.5 251.2 891.8 254.3 892.0 257.6 893.6 260.5 894.2 263.8 897.5 265.0 900.5 266.9 903.0 271.2 908.0 271.2 910.5 270.0M800.0 313.8 801.6 311.2 804.0 309.3 805.4 306.5 807.5 304.4M851.2 291.9 852.2 294.9 852.2 298.2 853.1 301.2 850.7 303.5 848.8 306.2 848.3 309.2 848.8 312.3 848.0 315.2 848.6 318.3 848.1 321.2 848.8 324.2 848.5 327.3 849.6 330.2 849.3 333.3 850.0 336.2M871.9 328.1 869.3 330.9 866.2 333.1M800.0 365.6 802.9 364.4 806.1 364.2 808.9 362.7 812.1 362.5 815.0 361.2 820.0 363.8 823.1 368.8 826.9 371.2 830.5 371.7 834.0 373.2 837.7 373.3 841.2 374.4M760.0 506.2 762.7 507.6 764.8 509.9 767.5 511.2 770.8 511.0 773.9 509.7 777.3 509.7 780.4 508.4 783.8 508.1 786.4 509.6 788.6 511.9 791.4 513.0 793.6 515.3 796.4 516.4 798.6 518.7 801.4 519.9 803.8 521.9M728.0 516.5 730.5 521.0 732.8 523.7 735.7 525.8 738.0 528.5 740.7 530.8 742.8 533.7 745.5 536.0 747.8 538.7 750.7 540.8 753.0 543.5 755.7 545.8 757.8 548.7 760.5 551.0 762.8 553.7 765.7 555.8 768.0 558.5 773.0 561.0M728.0 516.5 730.2 513.5 733.0 511.0 736.0 509.9 739.3 509.8 742.3 508.4 745.5 508.0 749.0 507.4 752.5 507.7 756.0 506.8 759.5 507.1 763.0 506.5 764.6 509.2 766.8 511.5 770.1 511.2 773.2 510.0 776.6 510.0 779.7 508.8 783.0 508.5 786.0 510.0 788.5 512.4 791.8 513.6 794.2 515.9 797.5 517.1 800.0 519.5 803.0 521.0M704.5 559.2 705.8 562.2 706.2 565.5 707.5 568.5 707.5 571.9 708.5 575.1 708.5 578.5 709.3 581.6 709.2 584.8 710.3 587.8 710.5 591.0 712.5 593.3 713.5 596.2 715.5 598.5M760.5 595.5 761.8 589.8 766.1 590.1 770.5 589.8M670.5 601.0 672.7 604.6 674.2 608.5M711.8 516.5 713.3 513.6 715.5 511.0 718.5 509.4 721.9 508.8 724.7 506.9 728.0 506.0 730.3 503.3 733.2 501.2 735.5 498.5 738.2 496.2 740.3 493.3 743.0 491.0 743.9 487.9 745.8 485.3 746.8 482.2M372.0 598.5 374.7 600.8 376.8 603.7 379.7 605.8 382.0 608.5 384.2 611.4 385.4 614.9 387.9 617.7 389.5 621.0 390.7 624.2 390.8 627.8 392.0 631.0 394.3 633.2 397.2 634.5 399.3 636.9 402.0 638.5 405.1 640.9 408.9 642.4 412.0 644.8 414.3 642.6 417.0 641.0 418.4 637.5 420.6 634.5 422.0 631.0 425.8 630.7 429.5 629.8 432.4 630.8 435.6 630.9 438.4 632.3 441.6 632.4 444.5 633.5 446.7 635.8 448.0 638.7 450.4 640.8 452.0 643.5 453.8 646.3 454.7 649.7 456.8 652.3 457.7 655.7 459.5 658.5 461.1 661.2 463.5 663.3 464.8 666.2 467.0 668.5 469.3 671.2 472.2 673.3 474.5 676.0 475.7 679.2 475.8 682.8 477.0 686.0 478.4 688.7 480.6 690.8 482.0 693.5 485.5 694.9 488.5 697.1 492.0 698.5 495.2 700.5 498.8 701.5 502.0 703.5 505.6 704.4 509.0 706.0 512.0 705.8 515.0 706.2M469.5 539.8 472.0 543.5 475.7 544.5 479.5 544.8 482.7 546.3 486.3 546.9 489.5 548.5 492.9 549.0 496.1 550.5 499.5 551.0 503.1 552.6 507.0 553.5 510.7 554.5 514.5 554.8 518.4 553.8 522.0 552.2 525.6 553.8 529.5 554.8 532.7 554.5 535.7 553.2 538.9 553.2 542.0 552.2 545.2 553.8 548.8 554.4 552.0 556.0 555.9 556.9 559.4 558.8 563.2 559.8M563.2 568.5 563.8 571.8 563.4 575.2 564.0 578.5 564.5 581.0M600.8 446.2 602.5 449.0 603.3 452.2 605.0 455.0 608.4 456.8 612.3 457.7 615.8 459.5 617.5 462.0 618.3 465.0 620.0 467.5 621.8 470.4 624.4 472.6 626.2 475.5 627.8 478.9 628.8 482.5 631.4 485.4 633.5 488.8 632.1 492.6 630.0 496.2 628.4 500.2 626.2 503.8 625.8 506.8 624.2 509.5 623.8 512.5 622.6 515.7 622.4 519.3 621.2 522.5 620.3 526.0 618.4 529.0 617.5 532.5 615.9 535.7 615.3 539.3 613.8 542.5 612.8 545.6 610.9 548.2 610.0 551.2 608.7 555.5 608.0 560.0 608.8 563.0 610.5 565.7 611.2 568.8 610.6 573.2 609.2 577.5 610.7 580.3 611.1 583.5 612.5 586.2 610.5 589.0 609.5 592.3 607.5 595.0 607.0 598.0 605.5 600.7 605.0 603.8 604.2 607.5M633.5 488.8 635.9 486.0 638.8 483.8 641.0 481.6 643.8 480.0 646.1 477.2 649.0 475.0 650.9 472.4 653.6 470.6 655.5 468.0 658.7 467.8 661.8 466.5 665.0 466.2 668.6 464.3 672.5 463.0 675.5 461.5 678.8 461.0 681.8 459.5 683.6 456.1 684.4 452.2 686.2 448.8 689.1 445.4 692.5 442.5 697.8 441.0 700.7 442.6 704.0 443.3 706.8 445.3 710.0 446.2 713.4 446.2 716.6 445.1 720.0 445.0 723.9 446.8 727.5 449.2 729.5 446.3 732.0 443.8 732.9 439.9 734.5 436.2 736.2 438.0M653.0 442.0 654.3 445.9 655.0 450.0 654.5 453.4 653.0 456.6 652.5 460.0 651.5 462.9 651.4 466.1 650.1 468.9 650.0 472.1 649.0 475.0M727.5 449.2 729.1 452.0 730.0 455.0 732.4 457.3 733.9 460.2 736.2 462.5 740.0 466.2 737.7 468.4 734.8 469.7 732.7 472.2 730.0 473.8 727.7 476.3 724.8 478.0 722.7 480.8 719.8 482.5 717.5 485.0M257.2 487.5 254.2 488.2 251.0 487.8 247.9 488.8 244.8 488.8 244.9 491.9 244.0 495.0 244.5 498.1 243.6 501.2 244.1 504.4 243.5 507.5 244.3 510.4 244.2 513.6 245.3 516.4 245.2 519.6 246.0 522.5 243.3 524.8 241.0 527.5 239.4 530.5 238.8 533.9 236.9 536.7 236.0 540.0 235.0 543.7 234.8 547.5 237.2 551.2 235.0 553.4 232.2 555.0M361.0 583.8 362.6 586.7 363.5 590.0 366.6 592.2 368.9 595.3 372.0 597.5 373.5 598.5M563.8 580.0 564.1 583.8 563.8 587.5 566.1 590.2 567.6 593.5 570.0 596.2 570.9 600.1 572.5 603.8 572.1 608.1 572.5 612.5 571.2 616.8 570.6 621.2 571.2 625.0 568.8 630.0M635.0 603.8 636.0 608.1 636.2 612.5 638.8 617.5M784.0 426.2 781.6 429.0 778.8 431.2 778.3 434.3 776.7 437.0 776.2 440.0 773.3 438.4 770.0 437.5 769.0 440.6 768.8 443.8 767.2 446.7 766.6 450.1 765.0 453.1 763.8 457.5 762.5 460.6 760.2 462.6 757.5 464.0 755.0 466.2M720.0 444.4 722.5 445.0 725.0 447.5 728.1 450.0 728.1 454.4 730.6 458.1 732.7 460.3 735.4 461.8 737.5 464.0M768.1 416.6 768.9 419.5 768.6 422.7 769.4 425.6 772.1 423.0 774.4 420.0 778.1 416.2 784.0 416.2M769.2 425.4 771.5 422.9 774.2 421.0 778.0 416.6 783.0 416.9 783.6 414.8 786.1 413.2 790.5 413.5 794.2 417.9 798.0 418.5 799.2 421.6 802.4 421.9 805.5 422.9 807.4 424.1 805.5 428.5 804.2 433.5 808.6 432.9 813.0 434.8 818.0 436.6 819.9 437.9M794.2 417.9 793.6 422.2 791.1 420.5 788.0 419.6 785.5 417.9 785.9 421.0 785.5 424.1 783.3 427.8 780.5 431.0 778.0 432.2 776.7 435.9 776.1 439.8 773.5 438.2 770.5 437.2 769.5 440.3 769.2 443.5 768.0 444.8M819.9 404.8 822.4 401.6 827.4 399.8 829.9 396.0M738.8 464.4 742.5 466.4 745.8 469.1 751.2 467.2 754.5 466.1 757.5 464.4M535.7 268.2 539.7 268.9 543.5 270.2 546.6 271.3 549.4 273.1 553.3 273.3 557.2 274.1 561.2 274.7 565.0 276.1 568.9 276.2 572.8 277.0 576.8 277.7 580.6 279.0 584.5 281.9 588.6 280.8 592.3 279.0 596.2 280.9 599.5 280.6 602.8 281.3 606.0 280.9" stroke="#2a2a2a" stroke-width="1"/>
<path d="M147.9 198.8 150.4 204.4 153.5 206.9 156.6 212.5 159.1 215.0M181.0 222.5 186.0 231.2 191.0 232.5 191.0 242.5 188.5 248.8 182.2 255.0M613.8 272.5 618.8 268.8 623.8 262.5 630.0 263.1M828.1 297.5 830.0 306.2 831.5 315.0M871.2 350.0 873.8 355.0M811.2 416.2 816.2 410.0 820.0 408.1M980.9 218.8 979.0 225.0 978.4 231.2 982.1 224.4 982.8 230.0M638.8 620.0 642.5 621.2 644.4 625.0 641.9 628.8M852.2 695.0 858.5 702.5 861.0 707.5M813.8 411.2 813.8 419.1 816.1 426.9M818.4 439.4 821.6 447.2 823.9 455.0M559.1 270.2 567.0 273.1" stroke="#222" stroke-width="2.2"/></g>
<rect x="115.75" y="195.00" width="870.55" height="529.90" fill="none" stroke="#222" stroke-width="1.6"/>
<path d="M98.5 281.50H115.75M98.5 381.00H115.75M98.5 479.25H115.75M98.5 578.50H115.75M98.5 678.75H115.75M986.30 243.00H1003.5M986.30 345.50H1003.5M986.30 446.60H1003.5M986.30 547.80H1003.5M986.30 649.20H1003.5M287.50 724.90V742M464.50 724.90V742M641.60 724.90V742M821.90 724.90V742M235.25 195.00V178M418.00 195.00V178M595.00 195.00V178M778.00 195.00V178M977.25 195.00V178" stroke="#222" stroke-width="1.3" fill="none"/>
<text x="80.5" y="292.50" text-anchor="end" font-family="Liberation Serif, serif" font-size="28.4">45°N</text>
<text x="80.5" y="392.00" text-anchor="end" font-family="Liberation Serif, serif" font-size="28.4">40°N</text>
<text x="80.5" y="490.25" text-anchor="end" font-family="Liberation Serif, serif" font-size="28.4">35°N</text>
<text x="80.5" y="589.50" text-anchor="end" font-family="Liberation Serif, serif" font-size="28.4">30°N</text>
<text x="80.5" y="689.75" text-anchor="end" font-family="Liberation Serif, serif" font-size="28.4">25°N</text>
<text x="286.20" y="771.5" text-anchor="middle" font-family="Liberation Serif, serif" font-size="28.3">110°W</text>
<text x="463.20" y="771.5" text-anchor="middle" font-family="Liberation Serif, serif" font-size="28.3">100°W</text>
<text x="640.30" y="771.5" text-anchor="middle" font-family="Liberation Serif, serif" font-size="28.3">90°W</text>
<text x="820.60" y="771.5" text-anchor="middle" font-family="Liberation Serif, serif" font-size="28.3">80°W</text>
<text x="207.8" y="154" font-family="Liberation Serif, serif" font-size="36.8">20250804 00 UTC PM<tspan font-size="22.5" dy="6.5">2.5</tspan><tspan dy="-6.5"> OC Forecast (ug</tspan><tspan> m</tspan><tspan font-size="21" dy="-16.5">-3</tspan><tspan dy="16.5">)</tspan></text>
<rect x="227.00" y="804" width="32.72" height="38.8" fill="rgb(222,241,251)"/>
<rect x="259.42" y="804" width="32.72" height="38.8" fill="rgb(190,229,247)"/>
<rect x="291.85" y="804" width="32.72" height="38.8" fill="rgb(157,216,244)"/>
<rect x="324.27" y="804" width="32.72" height="38.8" fill="rgb(130,192,229)"/>
<rect x="356.70" y="804" width="32.72" height="38.8" fill="rgb(107,168,218)"/>
<rect x="389.12" y="804" width="32.72" height="38.8" fill="rgb(74,138,200)"/>
<rect x="421.54" y="804" width="32.72" height="38.8" fill="rgb(75,154,158)"/>
<rect x="453.97" y="804" width="32.72" height="38.8" fill="rgb(75,165,117)"/>
<rect x="486.39" y="804" width="32.72" height="38.8" fill="rgb(76,181,72)"/>
<rect x="518.81" y="804" width="32.72" height="38.8" fill="rgb(131,196,80)"/>
<rect x="551.24" y="804" width="32.72" height="38.8" fill="rgb(196,216,88)"/>
<rect x="583.66" y="804" width="32.72" height="38.8" fill="rgb(248,229,90)"/>
<rect x="616.09" y="804" width="32.72" height="38.8" fill="rgb(246,192,77)"/>
<rect x="648.51" y="804" width="32.72" height="38.8" fill="rgb(246,153,62)"/>
<rect x="680.93" y="804" width="32.72" height="38.8" fill="rgb(243,108,42)"/>
<rect x="713.36" y="804" width="32.72" height="38.8" fill="rgb(233,84,43)"/>
<rect x="745.78" y="804" width="32.72" height="38.8" fill="rgb(220,58,40)"/>
<rect x="778.20" y="804" width="32.72" height="38.8" fill="rgb(210,31,40)"/>
<rect x="810.63" y="804" width="32.72" height="38.8" fill="rgb(189,30,36)"/>
<rect x="843.05" y="804" width="32.72" height="38.8" fill="rgb(168,27,33)"/>
<rect x="875.48" y="804" width="32.72" height="38.8" fill="rgb(143,21,27)"/>
<text x="227.00" y="869" text-anchor="middle" font-family="Liberation Serif, serif" font-size="20">0</text>
<text x="259.42" y="869" text-anchor="middle" font-family="Liberation Serif, serif" font-size="20">1</text>
<text x="291.85" y="869" text-anchor="middle" font-family="Liberation Serif, serif" font-size="20">2</text>
<text x="324.27" y="869" text-anchor="middle" font-family="Liberation Serif, serif" font-size="20">3</text>
<text x="356.70" y="869" text-anchor="middle" font-family="Liberation Serif, serif" font-size="20">4</text>
<text x="389.12" y="869" text-anchor="middle" font-family="Liberation Serif, serif" font-size="20">5</text>
<text x="421.54" y="869" text-anchor="middle" font-family="Liberation Serif, serif" font-size="20">6</text>
<text x="453.97" y="869" text-anchor="middle" font-family="Liberation Serif, serif" font-size="20">7</text>
<text x="486.39" y="869" text-anchor="middle" font-family="Liberation Serif, serif" font-size="20">8</text>
<text x="518.81" y="869" text-anchor="middle" font-family="Liberation Serif, serif" font-size="20">9</text>
<text x="551.24" y="869" text-anchor="middle" font-family="Liberation Serif, serif" font-size="20">10</text>
<text x="583.66" y="869" text-anchor="middle" font-family="Liberation Serif, serif" font-size="20">12</text>
<text x="616.09" y="869" text-anchor="middle" font-family="Liberation Serif, serif" font-size="20">14</text>
<text x="648.51" y="869" text-anchor="middle" font-family="Liberation Serif, serif" font-size="20">16</text>
<text x="680.93" y="869" text-anchor="middle" font-family="Liberation Serif, serif" font-size="20">18</text>
<text x="713.36" y="869" text-anchor="middle" font-family="Liberation Serif, serif" font-size="20">20</text>
<text x="745.78" y="869" text-anchor="middle" font-family="Liberation Serif, serif" font-size="20">25</text>
<text x="778.20" y="869" text-anchor="middle" font-family="Liberation Serif, serif" font-size="20">30</text>
<text x="810.63" y="869" text-anchor="middle" font-family="Liberation Serif, serif" font-size="20">35</text>
<text x="843.05" y="869" text-anchor="middle" font-family="Liberation Serif, serif" font-size="20">40</text>
<text x="875.48" y="869" text-anchor="middle" font-family="Liberation Serif, serif" font-size="20">45</text>
<rect x="429.5" y="445.3" width="243" height="29.6" fill="#fff" stroke="#555" stroke-width="1.1"/>
<text x="433.3" y="469" font-family="Liberation Sans, sans-serif" font-size="24.4" stroke="#000" stroke-width="0.45">NO CONTOUR DATA</text>
</svg></body></html>
